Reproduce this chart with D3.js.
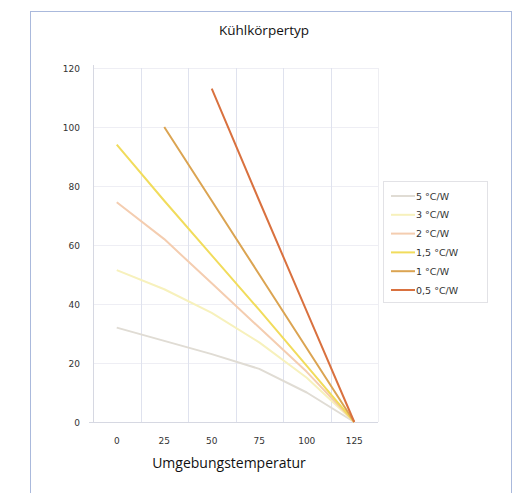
<!DOCTYPE html>
<html>
<head>
<meta charset="utf-8">
<script src="https://cdn.jsdelivr.net/npm/d3@7/dist/d3.min.js"></script>
<style>
  html, body { margin: 0; padding: 0; background: #fff; }
  svg { display: block; }
</style>
</head>
<body>
<svg id="chart" width="522" height="493"></svg>
<script>
// Ambient temperature categories (°C)
const temperatures = [0, 25, 50, 75, 100, 125];
const yTicks = [0, 20, 40, 60, 80, 100, 120];

// Permissible power per heat-sink thermal resistance
const seriesNames = ["5 °C/W", "3 °C/W", "2 °C/W", "1,5 °C/W", "1 °C/W", "0,5 °C/W"];
const values5 = [32, 27.5, 23, 18, 10, 0];
const values3 = [51.5, 45, 37, 27, 15, 0];
const values2 = [74.5, 62, 47, 32, 17, 0];
const values15 = [94, 75, 56.5, 38, 19, 0];
const values1 = [null, 100, 75, 50, 25, 0];
const values05 = [null, null, 113, 75, 37.5, 0];
const seriesColors = ["#e0dcd4", "#f7f1bc", "#f4cdb0", "#f1dc5c", "#dba452", "#d9713f"];

const series = [values5, values3, values2, values15, values1, values05].map((v, i) => ({
  name: seriesNames[i], color: seriesColors[i],
  points: v.map((val, j) => ({ t: temperatures[j], v: val })).filter(d => d.v !== null)
}));

const svg = d3.select("#chart");
const plot = { left: 93, right: 378, top: 68, bottom: 422 };

// Outer frame
svg.append("rect")
  .attr("x", 30.5).attr("y", 11.5).attr("width", 481).attr("height", 500)
  .attr("fill", "none").attr("stroke", "#aab9dc").attr("stroke-width", 1);

const x = d3.scaleBand().domain(temperatures).range([plot.left, plot.right]).paddingInner(0).paddingOuter(0);
const y = d3.scaleLinear().domain([0, 120]).range([plot.bottom, plot.top]);
const cx = t => x(t) + x.bandwidth() / 2;

// Horizontal gridlines
svg.append("g").selectAll("line").data(yTicks.slice(1)).join("line")
  .attr("x1", plot.left).attr("x2", plot.right)
  .attr("y1", d => y(d) + 0.5).attr("y2", d => y(d) + 0.5)
  .attr("stroke", "#eeeef4").attr("stroke-width", 1);

// Vertical gridlines at category boundaries
svg.append("g").selectAll("line").data(temperatures.slice(1).concat(["end"])).join("line")
  .attr("x1", (d, i) => Math.round(plot.left + (i + 1) * x.bandwidth()) + 0.5)
  .attr("x2", (d, i) => Math.round(plot.left + (i + 1) * x.bandwidth()) + 0.5)
  .attr("y1", plot.top).attr("y2", plot.bottom)
  .attr("stroke", (d, i) => i === 5 ? "#eeeef2" : "#dfe2ee").attr("stroke-width", 1);

// Axis lines
svg.append("line").attr("x1", plot.left + 0.5).attr("x2", plot.left + 0.5)
  .attr("y1", plot.top - 3).attr("y2", plot.bottom)
  .attr("stroke", "#d6d8e2");
svg.append("line").attr("x1", plot.left - 4).attr("x2", plot.right)
  .attr("y1", plot.bottom + 0.5).attr("y2", plot.bottom + 0.5)
  .attr("stroke", "#d6d8e2");

// Y tick labels
svg.append("g").selectAll("text").data(yTicks).join("text")
  .attr("x", 80).attr("y", d => y(d) + 3.5)
  .attr("text-anchor", "end")
  .attr("font-family", "DejaVu Sans, sans-serif").attr("font-size", 9)
  .attr("fill", "#333").text(d => d);

// X tick labels
svg.append("g").selectAll("text").data(temperatures).join("text")
  .attr("x", d => cx(d)).attr("y", 444)
  .attr("text-anchor", "middle")
  .attr("font-family", "DejaVu Sans, sans-serif").attr("font-size", 9)
  .attr("fill", "#333").text(d => d);

// Series lines
const line = d3.line().x(d => cx(d.t)).y(d => y(d.v));
svg.append("g").selectAll("path").data(series).join("path")
  .attr("d", d => line(d.points))
  .attr("fill", "none")
  .attr("stroke", d => d.color)
  .attr("stroke-width", 2)
  .attr("stroke-linejoin", "round");

// Titles
svg.append("text").attr("x", 264).attr("y", 35).attr("text-anchor", "middle")
  .attr("font-family", "Open Sans, sans-serif").attr("font-size", 13.5).attr("fill", "#111")
  .text("Kühlkörpertyp");
svg.append("text").attr("x", 229).attr("y", 468).attr("text-anchor", "middle")
  .attr("font-family", "Open Sans, sans-serif").attr("font-size", 14).attr("fill", "#111")
  .text("Umgebungstemperatur");

// Legend
const legend = svg.append("g");
legend.append("rect").attr("x", 383.5).attr("y", 181.5).attr("width", 104).attr("height", 121)
  .attr("fill", "#fff").attr("stroke", "#e2e2e6");
const item = legend.selectAll("g").data(series).join("g")
  .attr("transform", (d, i) => `translate(0, ${196 + i * 18.8})`);
item.append("line").attr("x1", 391).attr("x2", 415).attr("y1", 0).attr("y2", 0)
  .attr("stroke", d => d.color).attr("stroke-width", 2);
item.append("text").attr("x", 416).attr("y", 3.5)
  .attr("font-family", "DejaVu Sans, sans-serif").attr("font-size", 9.5)
  .attr("fill", "#333").text(d => d.name);
</script>
</body>
</html>
